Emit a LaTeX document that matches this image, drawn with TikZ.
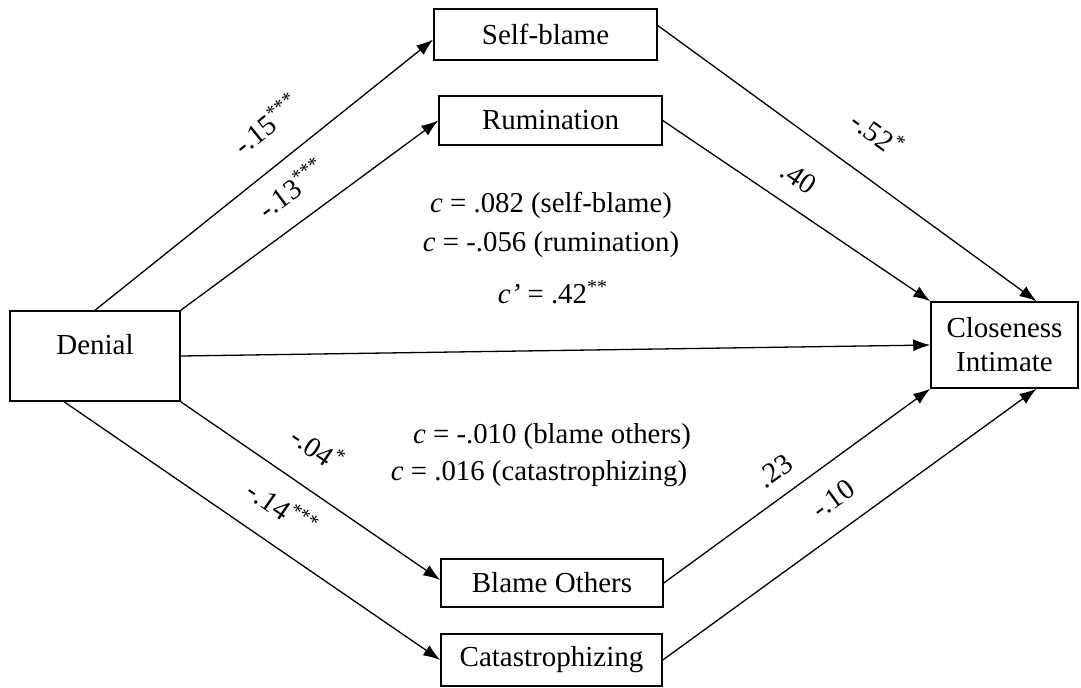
\documentclass[tikz,border=0pt]{standalone}
\usepackage{fontspec}
\setmainfont{Liberation Serif}
\usetikzlibrary{arrows.meta,calc}
\begin{document}
\begin{tikzpicture}[x=0.5pt,y=-0.5pt,
  box/.style={draw, line width=0.75pt, inner sep=0pt, font=\fontsize{14.5}{17}\selectfont, align=center},
  conn/.style={line width=0.65pt, -{Latex[length=8.5pt,width=6pt]}},
  lab/.style={font=\fontsize{14.4}{17}\selectfont, inner sep=0pt}]
\useasboundingbox (0,0) rectangle (1081,687);
% boxes
\node[box, minimum width=85pt, minimum height=45pt] (de) at (95,356) {\smash{\raisebox{1pt}{Denial}}};
\node[box, minimum width=73.5pt, minimum height=43pt] (cl) at (1004.5,345) {Closeness\\Intimate};
\node[box, minimum width=111.5pt, minimum height=25.5pt] (sb) at (545.5,34.5) {Self-blame};
\node[box, minimum width=111.5pt, minimum height=24.5pt] (ru) at (550.5,120.5) {Rumination};
\node[box, minimum width=111pt, minimum height=24pt] (bo) at (552,583) {Blame Others};
\node[box, minimum width=110.5pt, minimum height=26pt] (ca) at (551.5,660) {Catastrophizing};
% connectors
\draw[conn] (de.north) -- ($(sb.west)+(0,5)$);
\draw[conn] (de.north east) -- (ru.west);
\draw[conn] (de.east) -- (cl.west);
\draw[conn] (de.south east) -- ($(bo.west)+(0,-3)$);
\draw[conn] ($(de.south west)!0.32!(de.south east)$) -- (ca.west);
\draw[conn] ($(sb.east)+(0,-9)$) -- ($(cl.north)+(32,0)$);
\draw[conn] (ru.east) -- (cl.north west);
\draw[conn] (bo.east) -- (cl.south west);
\draw[conn] (ca.east) -- ($(cl.south)+(32,0)$);
% edge labels
\node[lab, rotate=38.6] (l1) at (266,124) {-.15\textsuperscript{***}};
\node[lab, rotate=36.4] (l2) at (291,188) {-.13\textsuperscript{***}};
\node[lab, rotate=-34.4] (l3) at (318,448) {-.04\textsuperscript{*}};
\node[lab, rotate=-34.6] (l4) at (283,508) {-.14\textsuperscript{***}};
\node[lab, rotate=-35.8] (l5) at (878,133) {-.52\textsuperscript{*}};
\node[lab, rotate=-34] (l6) at (799,178) {.40};
\node[lab, rotate=36] (l7) at (775,471) {.23};
\node[lab, rotate=36] (l8) at (833,499) {-.10};
% effect texts
\node[lab] (t1) at (551,205) {\textit{c} = .082 (self-blame)};
\node[lab] (t2) at (551,245) {\textit{c} = -.056 (rumination)};
\node[lab] (t3) at (553,292) {\textit{c’} = .42\textsuperscript{**}};
\node[lab] (t4) at (552,437) {\textit{c} = -.010 (blame others)};
\node[lab] (t5) at (539,474) {\textit{c} = .016 (catastrophizing)};
\end{tikzpicture}
\end{document}
